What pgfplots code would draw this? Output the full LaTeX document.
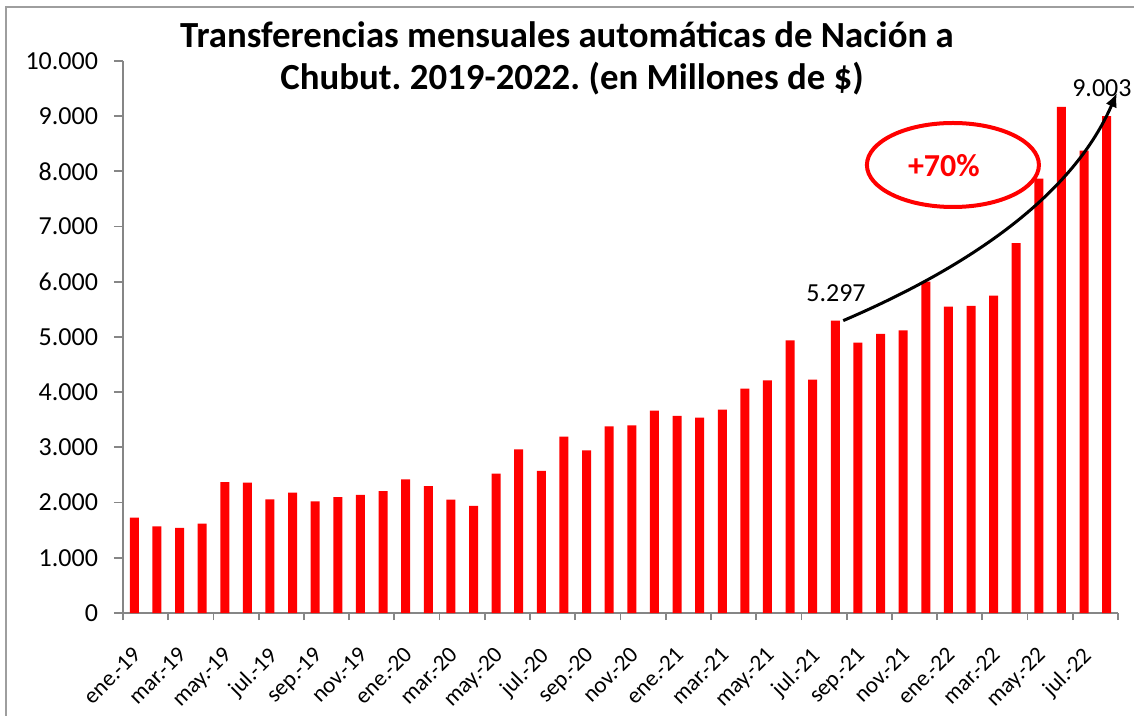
\documentclass[border=0pt]{standalone}
\usepackage{pgfplots}
\pgfplotsset{compat=1.18}
\usepackage{fontspec}
\setmainfont{Carlito}
\usetikzlibrary{arrows.meta}
\definecolor{axisgray}{RGB}{134,134,134}
\definecolor{barred}{RGB}{255,0,0}
\frenchspacing
\begin{document}
\begin{tikzpicture}
\useasboundingbox (0,0) rectangle (567bp,358bp);
\draw[axisgray!80, line width=1bp] (3bp,0) -- (3bp,354.5bp) -- (567bp,354.5bp);
\node[font=\fontsize{18.4bp}{20bp}\selectfont\bfseries, anchor=base] at (283.5bp,334bp) {Transferencias mensuales automáticas de Nación a};
\node[font=\fontsize{18.4bp}{20bp}\selectfont\bfseries, anchor=base] at (286bp,313bp) {Chubut. 2019-2022. (en Millones de \$)};
\begin{axis}[
  at={(61.5bp,51.5bp)}, anchor=south west,
  scale only axis, width=497.5bp, height=276bp,
  xmin=-0.5, xmax=43.5, ymin=0, ymax=10000,
  axis x line*=bottom, axis y line*=left,
  axis line style={axisgray, line width=0.9bp},
  tick align=outside,
  ytick={0,1000,...,10000},
  scaled y ticks=false,
  yticklabel style={/pgf/number format/fixed, /pgf/number format/1000 sep={.}, /pgf/number format/assume math mode=true, font=\fontsize{13bp}{15bp}\selectfont, xshift=-4.5bp},
  major tick length=4.5bp,
  minor tick length=3.5bp,
  xtick={0,2,...,42},
  xticklabels={ene.-19,mar.-19,may.-19,jul.-19,sep.-19,nov.-19,ene.-20,mar.-20,may.-20,jul.-20,sep.-20,nov.-20,ene.-21,mar.-21,may.-21,jul.-21,sep.-21,nov.-21,ene.-22,mar.-22,may.-22,jul.-22},
  minor xtick={-0.5,1.5,...,43.5},
  major x tick style={draw=none},
  minor x tick style={draw=axisgray, line width=0.9bp},
  major y tick style={draw=axisgray, line width=0.9bp},
  xticklabel style={font=\fontsize{11.5bp}{13bp}\selectfont, yshift=-11.5bp, xshift=-1.5bp, rotate=45, anchor=north east, inner sep=0pt},
  clip=false,
]
\addplot[ybar, bar width=4.5bp, fill=barred, draw=none] table[x=x, y=y] {
x y
0 1730
1 1570
2 1540
3 1620
4 2370
5 2360
6 2060
7 2180
8 2020
9 2100
10 2140
11 2210
12 2420
13 2300
14 2055
15 1940
16 2525
17 2965
18 2575
19 3195
20 2945
21 3380
22 3400
23 3665
24 3570
25 3540
26 3685
27 4065
28 4215
29 4940
30 4230
31 5297
32 4900
33 5055
34 5120
35 6005
36 5550
37 5565
38 5750
39 6700
40 7870
41 9170
42 8375
43 9003
};
\draw[barred, line width=2bp] (axis cs:36.2,8116) ellipse [x radius=43bp, y radius=21bp];
\node[text=barred, font=\fontsize{16bp}{18bp}\selectfont\bfseries] at (axis cs:35.80,8098) {+70\%};
\node[font=\fontsize{13bp}{15bp}\selectfont] at (axis cs:31.03,5797) {5.297};
\node[font=\fontsize{13bp}{15bp}\selectfont] at (axis cs:42.79,9511) {9.003};
\draw[line width=1.5bp, -{Latex[length=7bp,width=6bp]}] (axis cs:31.35,5297) .. controls (axis cs:37.40,6359) and (axis cs:41.60,7663) .. (axis cs:43.45,9420);
\end{axis}
\end{tikzpicture}
\end{document}
